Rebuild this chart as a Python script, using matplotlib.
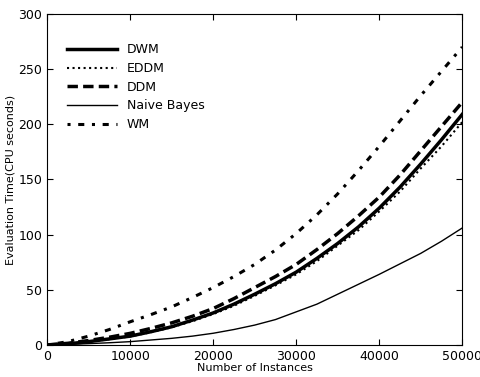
import numpy as np
import matplotlib
matplotlib.use('Agg')
import matplotlib.pyplot as plt

# instances processed (x axis), every 2500
instances = [0, 2500, 5000, 7500, 10000, 12500, 15000, 17500, 20000, 22500, 25000,
             27500, 30000, 32500, 35000, 37500, 40000, 42500, 45000, 47500, 50000]

# evaluation time in CPU seconds
dwm = [0, 1, 3, 5.5, 8, 12, 16.5, 22.5, 29, 37, 46,
       55.5, 66, 78.5, 92, 107, 124, 143, 164, 186, 209]
eddm = [0, 1, 2.8, 5.2, 7.7, 11.5, 16, 21.5, 28, 35.5, 44.5,
        54, 64, 76, 90, 104, 121, 139, 160, 180, 202]
ddm = [0, 1.5, 4, 7, 10.5, 15, 20, 26, 33, 42, 52,
       62, 73, 86.5, 101, 117, 134, 154, 176, 198, 220]
naive_bayes = [0, 0.5, 1.2, 2, 3, 4.5, 6, 8, 10.6, 14, 18,
               23, 30, 37, 46, 55, 64, 73.5, 83, 94, 106]
wm = [0, 3, 8, 14, 21, 27.5, 34.5, 43, 52, 62, 73,
      86, 101, 118, 137, 158, 180, 203, 226, 248, 270]

fig = plt.figure(figsize=(4.81, 3.77), dpi=100)
ax = fig.add_axes([0.098, 0.085, 0.863, 0.878])

ax.plot(instances, dwm, color='black', linewidth=2.5, label='DWM')
ax.plot(instances, eddm, color='black', linewidth=1.5, linestyle=':', label='EDDM')
ax.plot(instances, ddm, color='black', linewidth=2.5, linestyle=(0, (3, 1.5)), label='DDM')
ax.plot(instances, naive_bayes, color='black', linewidth=1.0, label='Naive Bayes')
ax.plot(instances, wm, color='black', linewidth=2.2, linestyle=(0, (1, 2.5, 2, 2.5)), label='WM')

ax.set_xlim(0, 50000)
ax.set_ylim(0, 300)
ax.set_xticks([0, 10000, 20000, 30000, 40000, 50000])
ax.set_yticks([0, 50, 100, 150, 200, 250, 300])
ax.tick_params(direction='in', top=True, right=True, labelsize=9, length=4)
ax.set_xlabel('Number of Instances', fontsize=8, labelpad=0)
ax.set_ylabel('Evaluation Time(CPU seconds)', fontsize=8, labelpad=2)

ax.legend(loc='upper left', bbox_to_anchor=(0.02, 0.945), frameon=False,
          fontsize=9, handlelength=4, labelspacing=0.45)

fig.savefig('out.png', dpi=100)
